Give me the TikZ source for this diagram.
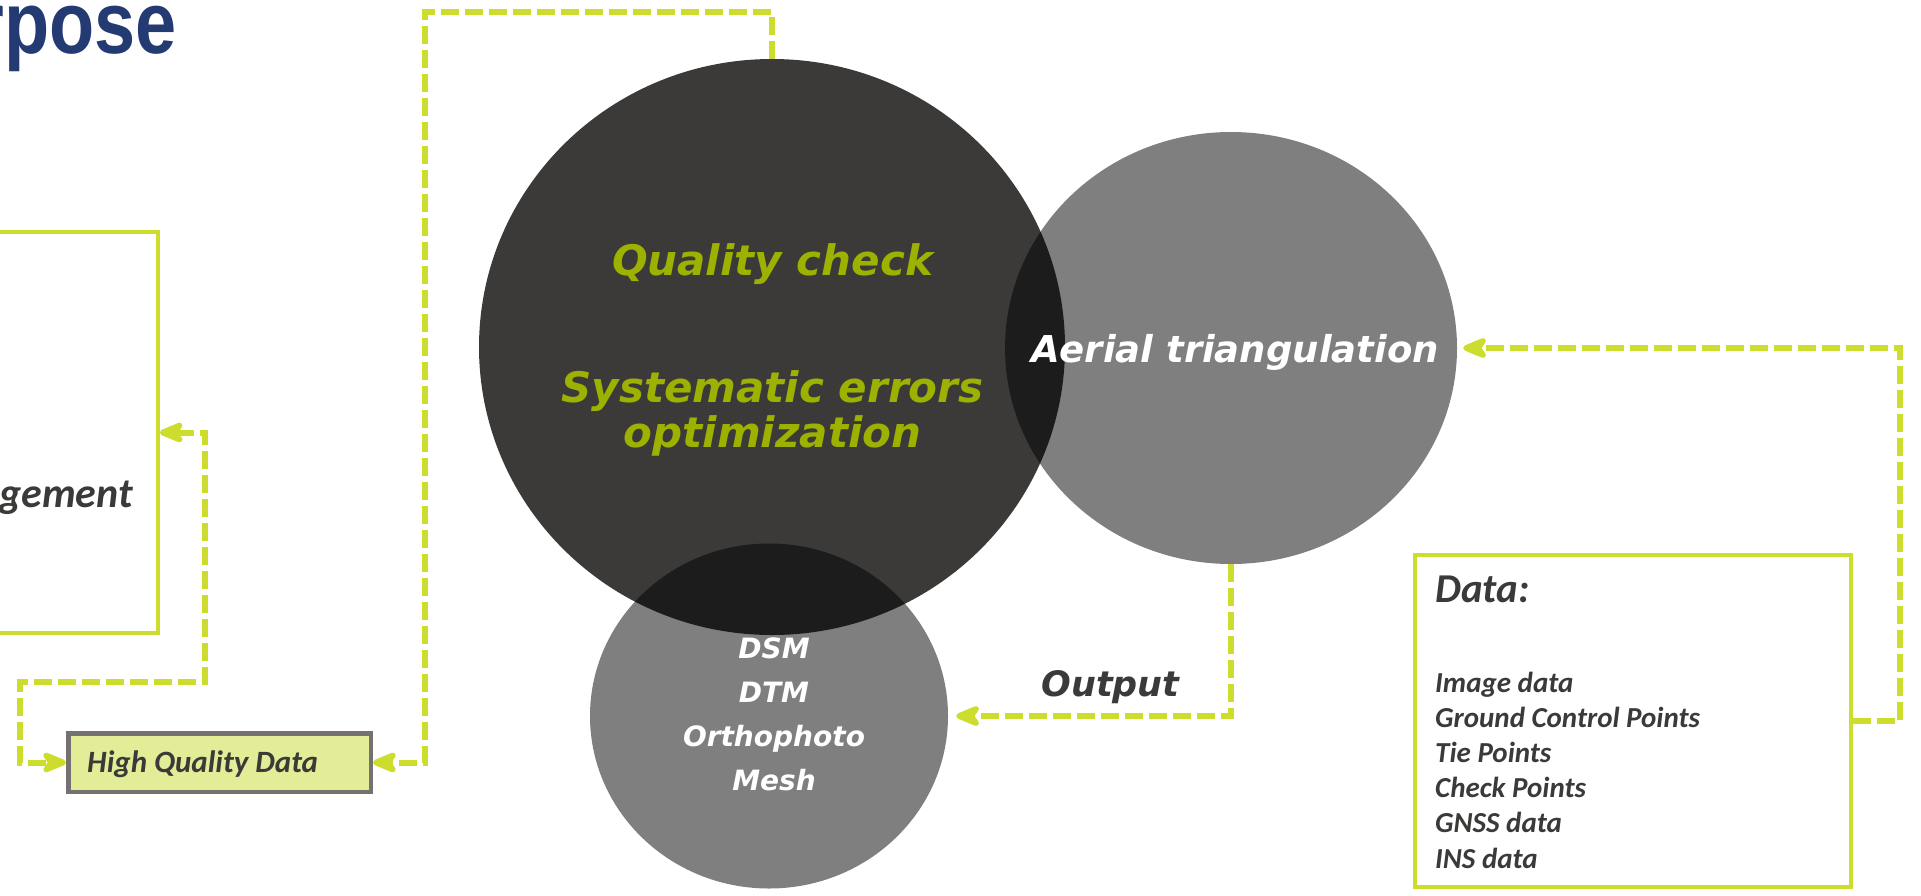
\documentclass[tikz,border=0pt]{standalone}
\usepackage{fontspec}
\usetikzlibrary{shapes.geometric,arrows.meta}
\newfontfamily\verd[BoldFont={DejaVu Sans Bold},ItalicFont={DejaVu Sans Oblique},BoldItalicFont={DejaVu Sans Bold Oblique}]{DejaVu Sans}
\newfontfamily\carl{Carlito}
\newfontfamily\lib{Liberation Sans}
\definecolor{lime}{RGB}{204,221,46}
\definecolor{hqdfill}{RGB}{227,236,150}
\definecolor{hqdborder}{RGB}{118,113,113}
\definecolor{darkc}{RGB}{59,58,57}
\definecolor{olive}{RGB}{157,177,0}
\definecolor{textdark}{RGB}{59,58,57}
\definecolor{navy}{RGB}{35,58,115}
\begin{document}
\begin{tikzpicture}[x=1pt,y=-1pt,
  >={Stealth[length=32pt,width=26pt,inset=9pt,round]},
  conn/.style={draw=lime,line width=6pt,dash pattern=on 18pt off 6pt},
  blob/.style={ellipse,inner sep=0pt,draw=none},
  vfont/.style={font=\verd\bfseries\itshape\fontsize{#1}{#1}\selectfont},
  cfont/.style={font=\carl\bfseries\itshape\fontsize{#1}{#1}\selectfont},
  greenbox/.style={rectangle,draw=lime,inner sep=0pt}
]
\useasboundingbox (0,0) rectangle (1921,895);
\clip (0,0) rectangle (1921,895);

% circles
\node[blob,fill=darkc,minimum width=586pt,minimum height=576pt] (big) at (772,347) {};
\node[blob,fill=black,fill opacity=0.5,minimum width=452pt,minimum height=432pt] (aerial) at (1231,348) {};
\node[blob,fill=black,fill opacity=0.5,minimum width=358pt,minimum height=345pt] (prod) at (769,716) {};

% boxes
\node[greenbox,line width=3.5pt,minimum width=190pt,minimum height=401pt] (mgmt) at (63,432.5) {};
\node[greenbox,line width=4pt,minimum width=436pt,minimum height=332pt] (data) at (1633,721) {};
\node[rectangle,draw=hqdborder,fill=hqdfill,line width=4.5pt,inner sep=0pt,minimum width=302.5pt,minimum height=58.5pt] (hqd) at (219.5,762.5) {};

% texts
\node[anchor=base east,inner sep=0pt,text=navy,font=\lib\bfseries\fontsize{88pt}{90pt}\selectfont] (title) at (177,53) {\scalebox{0.84}[1]{rpose}};
\node[anchor=base east,inner sep=0pt,text=textdark,cfont=42pt] (mgmttxt) at (133,507) {gement};
\node[anchor=base west,inner sep=0pt,text=textdark,cfont=31pt] (hqdtxt) at (87,772) {High Quality Data};

\node[anchor=base,inner sep=0pt,text=olive,vfont=42pt] (qc) at (772.5,275) {Quality check};
\node[anchor=base,inner sep=0pt,text=olive,vfont=42pt] (sys1) at (772.5,402) {Systematic errors};
\node[anchor=base,inner sep=0pt,text=olive,vfont=42pt] (sys2) at (772.5,447) {optimization};
\node[anchor=base,inner sep=0pt,text=white,vfont=37pt] (attxt) at (1235,362) {Aerial triangulation};
\node[anchor=base,inner sep=0pt,text=white,align=center,font=\verd\bfseries\itshape\fontsize{28pt}{43.7pt}\selectfont] (prodtxt) at (774,790) {DSM\\DTM\\Orthophoto\\Mesh};
\node[anchor=base,inner sep=0pt,text=textdark,vfont=35pt] (outtxt) at (1110.5,696) {Output};

\node[anchor=base west,inner sep=0pt,text=textdark,cfont=41pt] (datatitle) at (1435,602) {Data:};
\node[anchor=base west,inner sep=0pt,text=textdark,align=left,font=\carl\bfseries\itshape\fontsize{29pt}{35.2pt}\selectfont] (datalist) at (1435,868) {Image data\\Ground Control Points\\Tie Points\\Check Points\\GNSS data\\INS data};

% connectors
\draw[conn,<->] (mgmt.east) -| (205,682) -| (20,762.5) -- (hqd.west);
\draw[conn,->] (big.north) |- (425,12) |- (hqd.east);
\draw[conn,->,shorten >=6pt] (data.east) -| (1900,348) -- (aerial.east);
\draw[conn,->,shorten >=8pt] (aerial.south) |- (prod.east);
\end{tikzpicture}
\end{document}
